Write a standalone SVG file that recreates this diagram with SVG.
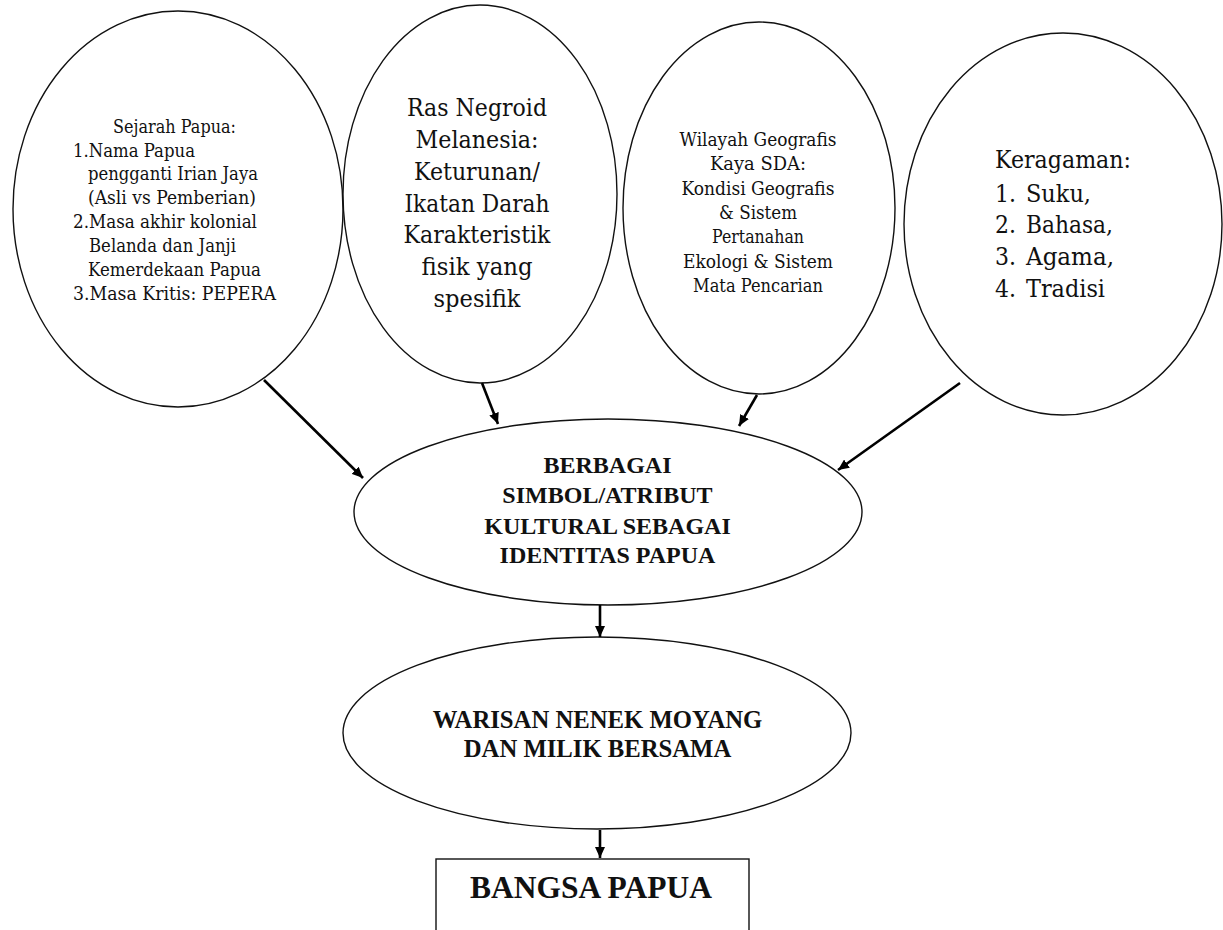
<svg xmlns="http://www.w3.org/2000/svg" width="1223" height="930" viewBox="0 0 1223 930">
<style>
.node{fill:#fff;stroke:#111;stroke-width:1.4}
.r{font-family:"DejaVu Serif","Liberation Serif",serif;fill:#111}
.b{font-family:"Liberation Serif","Times New Roman",serif;font-weight:bold;fill:#111}
.s20{font-size:18px}
.s28{font-size:25px}
.b24{font-size:24px}
.b30{font-size:31.5px}
.c{text-anchor:middle}
.arr{stroke:#000;stroke-width:2.6;fill:none;marker-end:url(#ah)}
</style>
<defs>
<marker id="ah" markerUnits="userSpaceOnUse" markerWidth="12" markerHeight="10" refX="11" refY="5" orient="auto">
<path d="M0,0 L11,5 L0,10 Z" fill="#000"/>
</marker>
</defs>
<rect width="1223" height="930" fill="#fff"/>

<g id="n-sejarah">
<ellipse class="node" cx="178" cy="209" rx="165" ry="198"/>
<text class="r s20" x="113" y="133" textLength="123" lengthAdjust="spacingAndGlyphs">Sejarah Papua:</text>
<text class="r s20" x="73" y="157" textLength="122" lengthAdjust="spacingAndGlyphs">1.Nama Papua</text>
<text class="r s20" x="88" y="180" textLength="170" lengthAdjust="spacingAndGlyphs">pengganti Irian Jaya</text>
<text class="r s20" x="88" y="204" textLength="168" lengthAdjust="spacingAndGlyphs">(Asli vs Pemberian)</text>
<text class="r s20" x="73" y="228" textLength="184" lengthAdjust="spacingAndGlyphs">2.Masa akhir kolonial</text>
<text class="r s20" x="89" y="252" textLength="147" lengthAdjust="spacingAndGlyphs">Belanda dan Janji</text>
<text class="r s20" x="88" y="276" textLength="173" lengthAdjust="spacingAndGlyphs">Kemerdekaan Papua</text>
<text class="r s20" x="73" y="300" textLength="203" lengthAdjust="spacingAndGlyphs">3.Masa Kritis: PEPERA</text>
</g>

<g id="n-ras">
<ellipse class="node" cx="480" cy="194" rx="137" ry="189"/>
<text class="r s28 c" x="477" y="116" textLength="140" lengthAdjust="spacingAndGlyphs">Ras Negroid</text>
<text class="r s28 c" x="477" y="148" textLength="123" lengthAdjust="spacingAndGlyphs">Melanesia:</text>
<text class="r s28 c" x="477" y="180" textLength="126" lengthAdjust="spacingAndGlyphs">Keturunan/</text>
<text class="r s28 c" x="477" y="212" textLength="145" lengthAdjust="spacingAndGlyphs">Ikatan Darah</text>
<text class="r s28 c" x="477" y="243" textLength="147" lengthAdjust="spacingAndGlyphs">Karakteristik</text>
<text class="r s28 c" x="477" y="275" textLength="111" lengthAdjust="spacingAndGlyphs">fisik yang</text>
<text class="r s28 c" x="477" y="307" textLength="87" lengthAdjust="spacingAndGlyphs">spesifik</text>
</g>

<g id="n-wilayah">
<ellipse class="node" cx="759" cy="208" rx="136" ry="186"/>
<text class="r s20 c" x="758" y="146" textLength="157" lengthAdjust="spacingAndGlyphs">Wilayah Geografis</text>
<text class="r s20 c" x="758" y="170" textLength="96" lengthAdjust="spacingAndGlyphs">Kaya SDA:</text>
<text class="r s20 c" x="758" y="195" textLength="153" lengthAdjust="spacingAndGlyphs">Kondisi Geografis</text>
<text class="r s20 c" x="758" y="219" textLength="78" lengthAdjust="spacingAndGlyphs">&amp; Sistem</text>
<text class="r s20 c" x="758" y="243" textLength="92" lengthAdjust="spacingAndGlyphs">Pertanahan</text>
<text class="r s20 c" x="758" y="268" textLength="150" lengthAdjust="spacingAndGlyphs">Ekologi &amp; Sistem</text>
<text class="r s20 c" x="758" y="292" textLength="130" lengthAdjust="spacingAndGlyphs">Mata Pencarian</text>
</g>

<g id="n-keragaman">
<ellipse class="node" cx="1063" cy="224" rx="159" ry="191"/>
<text class="r s28" x="995" y="168" textLength="136" lengthAdjust="spacingAndGlyphs">Keragaman:</text>
<text class="r s28" x="995" y="202" textLength="21" lengthAdjust="spacingAndGlyphs">1.</text><text class="r s28" x="1026" y="202" textLength="65" lengthAdjust="spacingAndGlyphs">Suku,</text>
<text class="r s28" x="995" y="233" textLength="21" lengthAdjust="spacingAndGlyphs">2.</text><text class="r s28" x="1026" y="233" textLength="87" lengthAdjust="spacingAndGlyphs">Bahasa,</text>
<text class="r s28" x="995" y="265" textLength="21" lengthAdjust="spacingAndGlyphs">3.</text><text class="r s28" x="1026" y="265" textLength="88" lengthAdjust="spacingAndGlyphs">Agama,</text>
<text class="r s28" x="995" y="297" textLength="21" lengthAdjust="spacingAndGlyphs">4.</text><text class="r s28" x="1026" y="297" textLength="79" lengthAdjust="spacingAndGlyphs">Tradisi</text>
</g>

<g id="n-simbol">
<ellipse class="node" cx="608" cy="512" rx="254" ry="93"/>
<text class="b b24 c" x="607.5" y="473">BERBAGAI</text>
<text class="b b24 c" x="607.5" y="503">SIMBOL/ATRIBUT</text>
<text class="b b24 c" x="607.5" y="534">KULTURAL SEBAGAI</text>
<text class="b b24 c" x="607.5" y="563">IDENTITAS PAPUA</text>
</g>

<g id="n-warisan">
<ellipse class="node" cx="597" cy="733" rx="254" ry="96"/>
<text class="b c" style="font-size:24.7px" x="597.5" y="728">WARISAN NENEK MOYANG</text>
<text class="b c" style="font-size:24.7px" x="597.5" y="757">DAN MILIK BERSAMA</text>
</g>

<g id="n-bangsa">
<rect class="node" x="436" y="859" width="313" height="100"/>
<text class="b b30 c" x="591" y="898">BANGSA PAPUA</text>
</g>

<g id="connectors">
<line class="arr" x1="264" y1="380" x2="363" y2="478"/>
<line class="arr" x1="482" y1="383" x2="498" y2="424"/>
<line class="arr" x1="757" y1="395" x2="739" y2="426"/>
<line class="arr" x1="960" y1="383" x2="838" y2="470"/>
<line class="arr" x1="600" y1="605" x2="600" y2="637"/>
<line class="arr" x1="600" y1="830" x2="600" y2="858"/>
</g>
</svg>
